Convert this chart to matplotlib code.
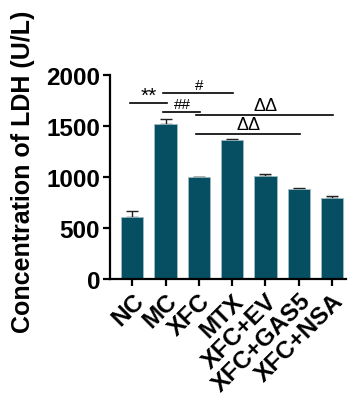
import numpy as np
import matplotlib
matplotlib.use("Agg")
import matplotlib.pyplot as plt

plt.rcParams['font.family'] = ['Liberation Sans', 'DejaVu Sans']

groups = ["NC", "MC", "XFC", "MTX", "XFC+EV", "XFC+GAS5", "XFC+NSA"]
means = [605, 1517, 997, 1363, 1013, 879, 794]
errs = [60, 50, 6, 12, 13, 10, 15]

# (left group, right group, height, label)
sig_bars = [
    (0, 1, 1728, "**"),
    (1, 3, 1826, "#"),
    (1, 2, 1640, "##"),
    (2, 6, 1608, "ΔΔ"),
    (2, 5, 1425, "ΔΔ"),
]
sig_sizes = {"**": 15, "#": 11, "##": 11, "ΔΔ": 13}

fig = plt.figure(figsize=(3.48, 4.02), dpi=100)
ax = fig.add_axes([0.316, 0.3035, 0.678, 0.5075])

x = np.arange(len(groups))
ax.bar(x, means, width=0.67, color='#064e61', edgecolor='#9fbcc4', linewidth=0.6, zorder=2)
ax.errorbar(x, means, yerr=[np.zeros(len(errs)), errs], fmt='none', ecolor='#222222',
            elinewidth=1.0, capsize=4, capthick=1.0, zorder=1)

for a, b, h, lab in sig_bars:
    ax.plot([a - 0.08, b + 0.03], [h, h], color='black', lw=1.2, clip_on=False)
    off = -25 if lab == "**" else 5
    ax.text((a + b) / 2, h + off, lab, ha='center', va='bottom', fontsize=sig_sizes[lab])

ax.set_xlim(-0.67, 6.42)
ax.set_ylim(0, 2000)
ax.set_yticks([0, 500, 1000, 1500, 2000])
ax.set_xticks(x)
ax.set_xticklabels(groups, rotation=45, ha='right', va='top', rotation_mode='anchor',
                   fontsize=17.5, fontweight='bold')
for t in ax.get_yticklabels():
    t.set_fontsize(17.5)
    t.set_fontweight('bold')
ax.set_ylabel("Concentration of LDH (U/L)", fontsize=18, fontweight='bold')
ax.yaxis.set_label_coords(-0.318, 0.53)

for s in ['top', 'right']:
    ax.spines[s].set_visible(False)
for s in ['left', 'bottom']:
    ax.spines[s].set_linewidth(1.6)
ax.tick_params(axis='both', width=1.6, length=5, pad=2)

fig.savefig("out.png", dpi=100)
